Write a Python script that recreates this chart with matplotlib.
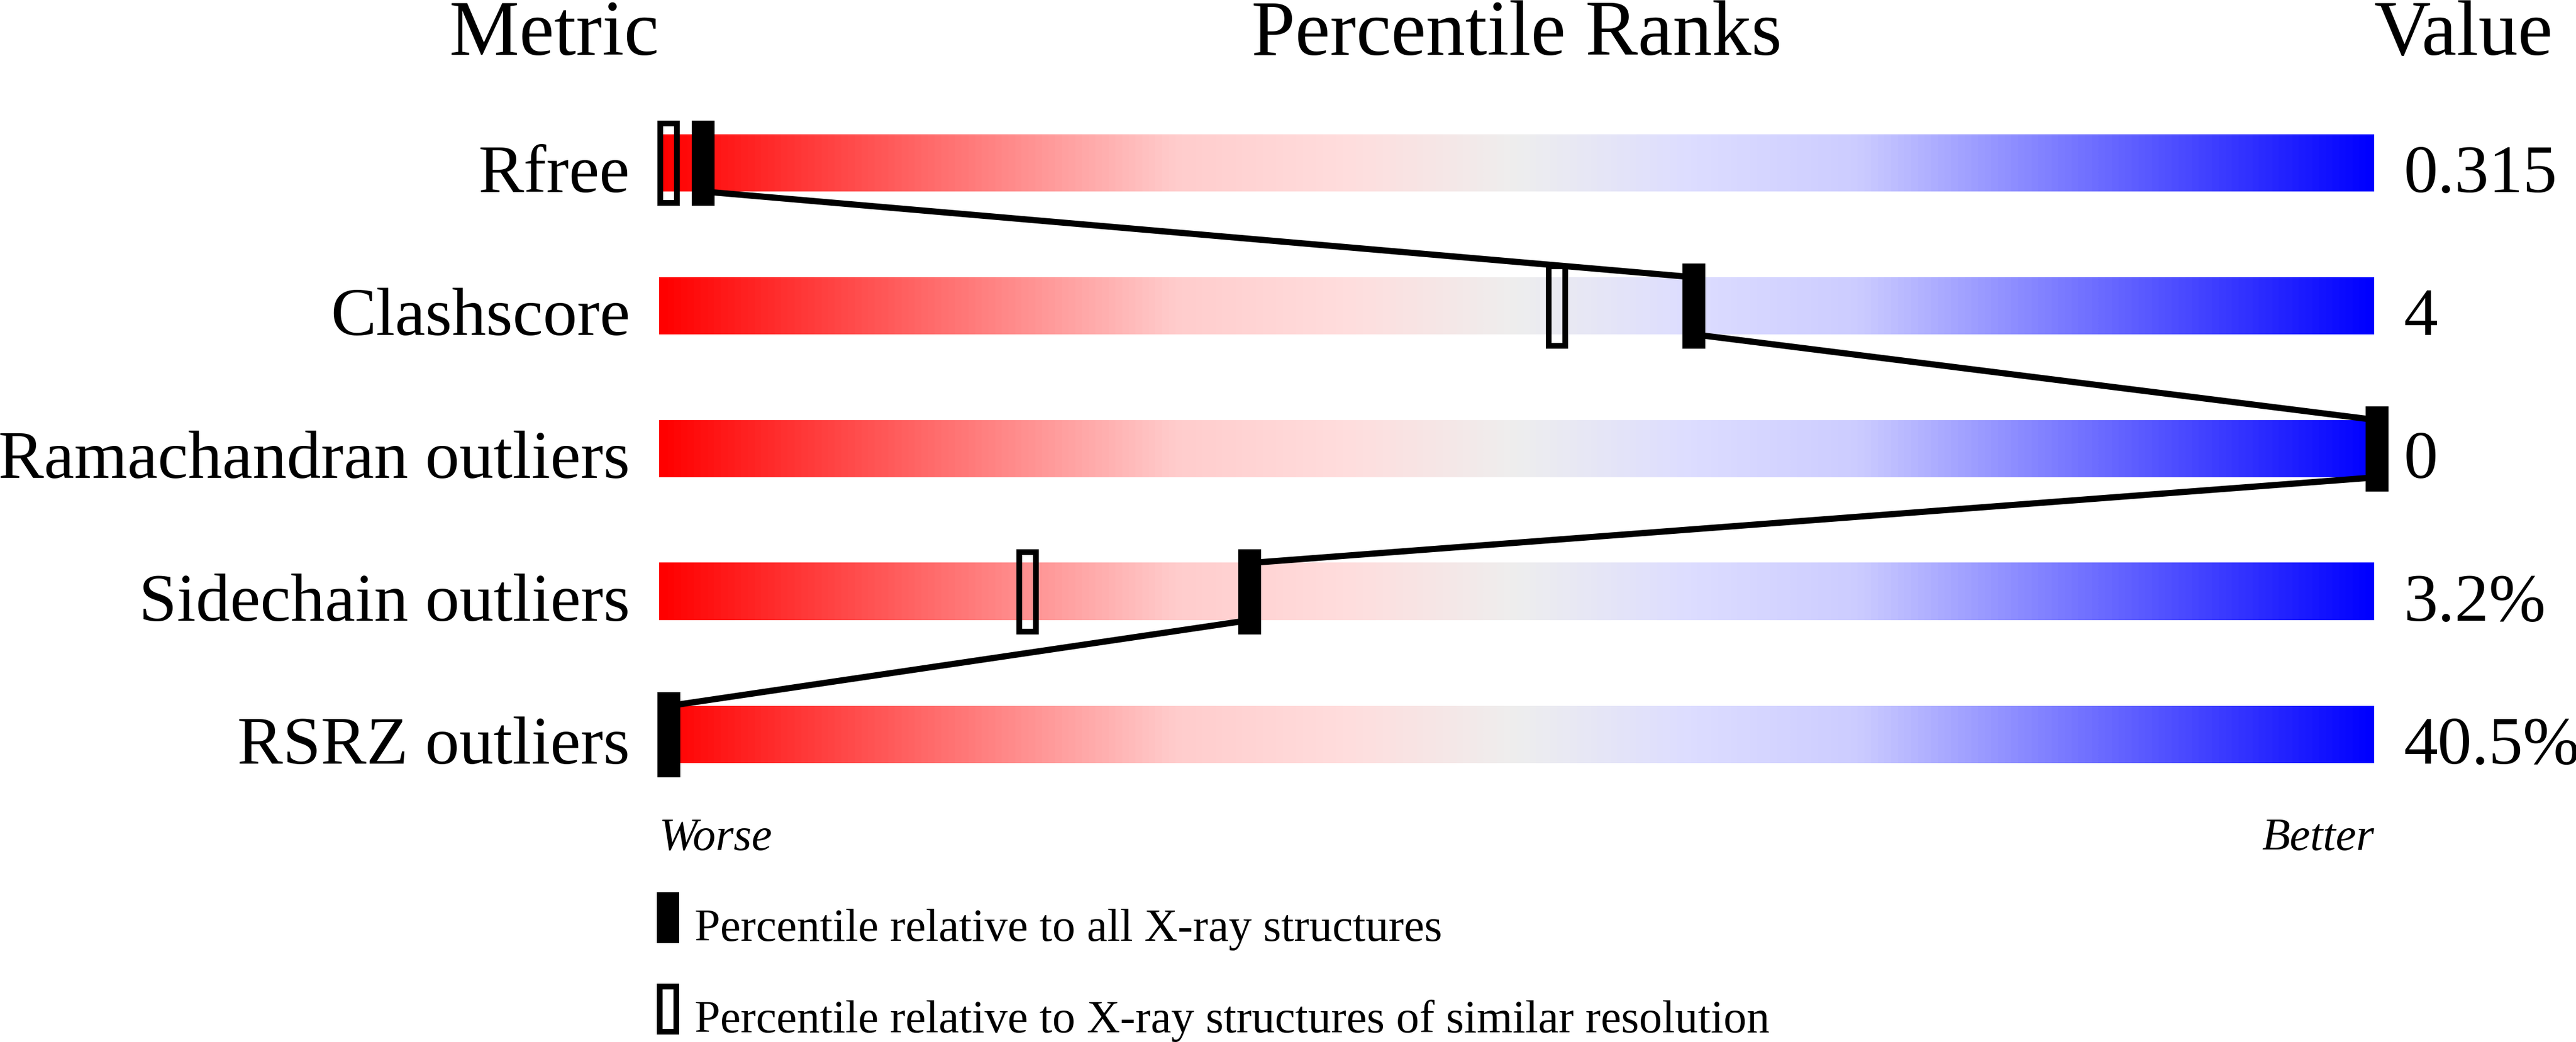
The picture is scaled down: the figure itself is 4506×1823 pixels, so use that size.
import numpy as np
import matplotlib
matplotlib.use('Agg')
import matplotlib.pyplot as plt
from matplotlib.colors import LinearSegmentedColormap
from matplotlib.patches import Rectangle

metrics = ['Rfree', 'Clashscore', 'Ramachandran outliers', 'Sidechain outliers', 'RSRZ outliers']
values = ['0.315', '4', '0', '3.2%', '40.5%']
pct_all = [2, 60, 100, 34, 0]        # relative to all X-ray structures
pct_similar = [0, 52, 100, 21, 0]    # relative to similar resolution
legend_labels = ['Percentile relative to all X-ray structures',
                 'Percentile relative to X-ray structures of similar resolution']

W, H = 4506, 1824
FONT = 'Liberation Serif'

fig = plt.figure(figsize=(W / 100, H / 100), dpi=100)
ax = fig.add_axes([0, 0, 1, 1])
ax.axis('off')

# percentile p -> pixel x = X0 + p*XS ; row i -> pixel y = Y0 + i*YS
X0, XS = 1170, 29.88
Y0, YS = 286, 250


def px(x, y):
    return (x - X0) / XS, (y - Y0) / YS


bar_lo = px(1153, 0)[0]
bar_hi = px(4153, 0)[0]
half = 50 / YS

cmap = LinearSegmentedColormap.from_list('slider', [
    (0.0, '#ff0000'), (0.3, '#ffcccc'), (0.4, '#ffdddd'), (0.5, '#eeeeee'),
    (0.6, '#ddddff'), (0.7, '#ccccff'), (1.0, '#0000ff')])
grad = np.linspace(0, 1, 512).reshape(1, -1)

for i in range(len(metrics)):
    ax.imshow(grad, cmap=cmap, extent=[bar_lo, bar_hi, i + half, i - half],
              aspect='auto', interpolation='bilinear', zorder=1)

# line joining the "all structures" markers
xs, ys = [], []
for i in range(len(metrics) - 1):
    xs += [pct_all[i], pct_all[i + 1]]
    ys += [i + half, i + 1 - half]
ax.plot(xs, ys, color='black', lw=7.8, zorder=2, solid_capstyle='butt')

mw, mh = 40 / XS, 149 / YS
hw, hh = 29 / XS, 139 / YS
for i in range(len(metrics)):
    ax.add_patch(Rectangle((pct_similar[i] - hw / 2, i - hh / 2), hw, hh,
                           facecolor='none', edgecolor='black', lw=7.2, zorder=3))
    ax.add_patch(Rectangle((pct_all[i] - mw / 2, i - mh / 2), mw, mh,
                           facecolor='black', edgecolor='none', zorder=4))

# headers
for label, x, ha in [('Metric', 1153, 'right'), ('Percentile Ranks', 2653, 'center'),
                     ('Value', 4153, 'left')]:
    ax.text(*px(x, 96), label, ha=ha, va='baseline', fontsize=99, family=FONT)

for i, (m, v) in enumerate(zip(metrics, values)):
    yb = Y0 + i * YS + 50
    ax.text(*px(1102, yb), m, ha='right', va='baseline', fontsize=86, family=FONT)
    ax.text(*px(4205, yb), v, ha='left', va='baseline', fontsize=86, family=FONT)

ax.text(*px(1153, 1487), 'Worse', ha='left', va='baseline', fontsize=58,
        family=FONT, style='italic')
ax.text(*px(4153, 1487), 'Better', ha='right', va='baseline', fontsize=58,
        family=FONT, style='italic')

# legend
x0, y0 = px(1149, 1562)
x1, y1 = px(1188, 1651)
ax.add_patch(Rectangle((x0, y0), x1 - x0, y1 - y0, facecolor='black', edgecolor='none'))
x0, y0 = px(1154, 1727)
x1, y1 = px(1183, 1806)
ax.add_patch(Rectangle((x0, y0), x1 - x0, y1 - y0, facecolor='none',
                       edgecolor='black', lw=7.2))
ax.text(*px(1215, 1646), legend_labels[0], ha='left', va='baseline', fontsize=58, family=FONT)
ax.text(*px(1215, 1806), legend_labels[1], ha='left', va='baseline', fontsize=58, family=FONT)

ax.set_xlim(-X0 / XS, (W - X0) / XS)
ax.set_ylim((H - Y0) / YS, -Y0 / YS)

fig.savefig('out.png', dpi=100)
